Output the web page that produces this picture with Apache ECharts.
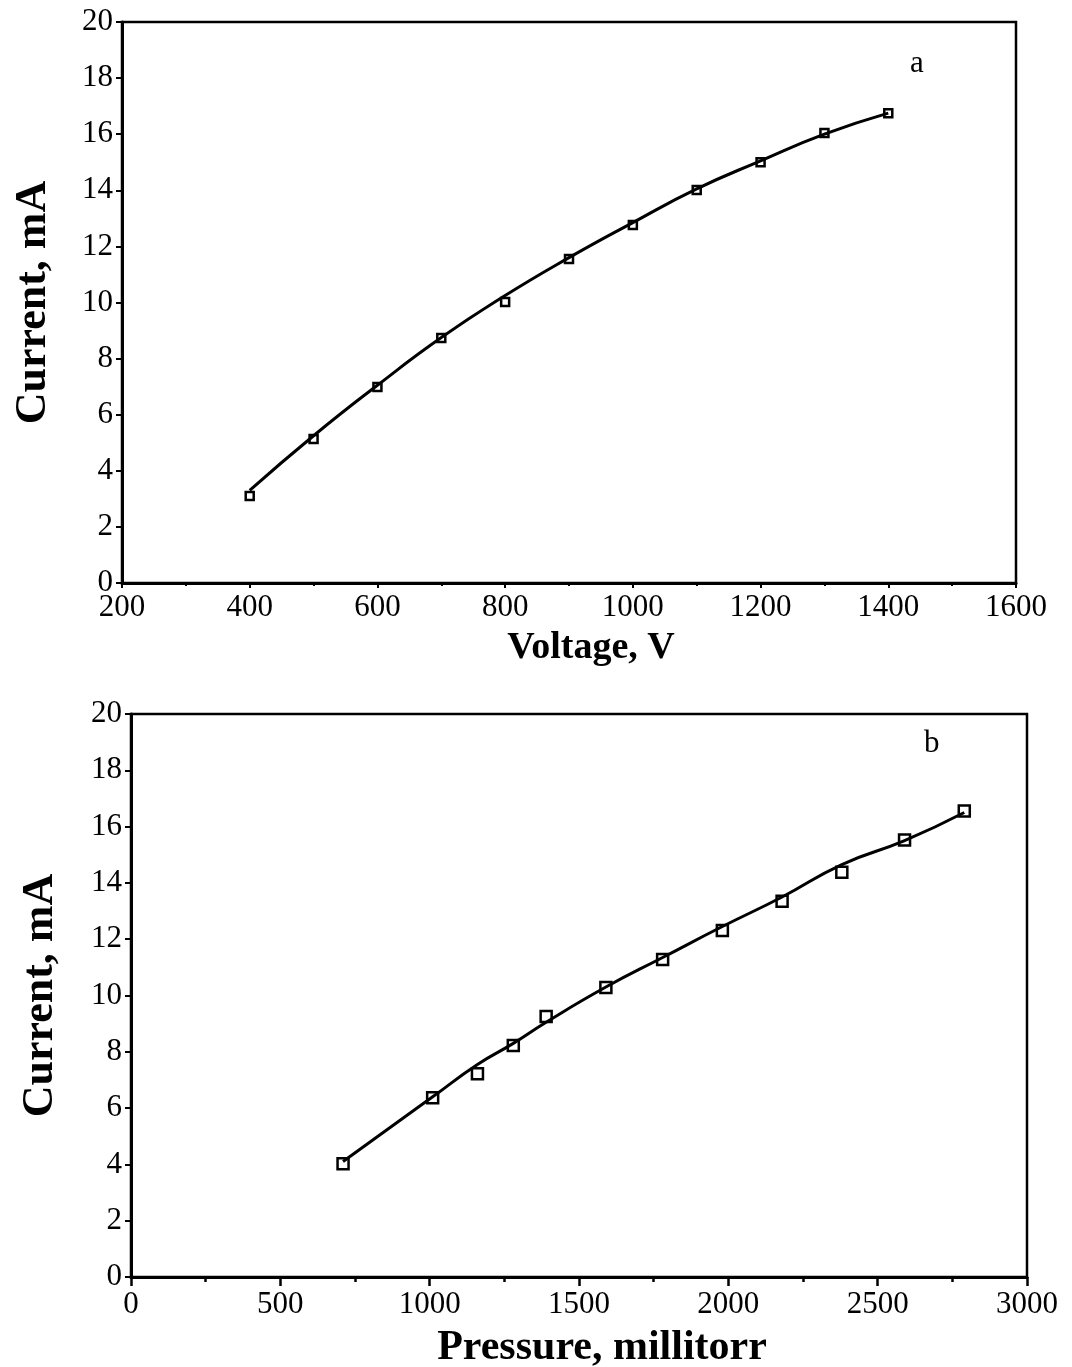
<!DOCTYPE html>
<html>
<head>
<meta charset="utf-8">
<script src="https://cdn.jsdelivr.net/npm/echarts@6/dist/echarts.min.js"></script>
<style>
  html, body { margin: 0; padding: 0; background: #fff; }
  #chart { width: 1072px; height: 1367px; }
</style>
</head>
<body>
<div id="chart"></div>
<script>
// panel a: current vs voltage
const voltage = [400, 500, 600, 700, 800, 900, 1000, 1100, 1200, 1300, 1400]
const currentA = [3.1, 5.13, 6.99, 8.73, 10.02, 11.55, 12.76, 14.01, 15.0, 16.04, 16.75]
const fitA = [3.3, 5.25, 7.05, 8.75, 10.25, 11.6, 12.85, 14.05, 15.05, 16.0, 16.75]

// panel b: current vs pressure
const pressure = [710, 1010, 1160, 1280, 1390, 1590, 1780, 1980, 2180, 2380, 2590, 2790]
const currentB = [4.02, 6.37, 7.22, 8.22, 9.25, 10.28, 11.28, 12.31, 13.35, 14.38, 15.52, 16.55]
const fitB = [4.1, 6.4, 7.55, 8.3, 9.05, 10.3, 11.35, 12.45, 13.5, 14.65, 15.5, 16.5]

const font = 'Liberation Serif'
const chart = echarts.init(document.getElementById('chart'))

const pairs = (xs, ys) => xs.map((x, i) => [x, ys[i]])

// shared axis look
const axisBase = {
  type: 'value',
  splitLine: { show: false },
  axisLine: { show: true, lineStyle: { color: '#000', width: 3 } },
  axisLabel: { color: '#000', fontFamily: font, fontSize: 31, formatter: v => String(v) },
  nameLocation: 'middle'
}
const nameStyle = (size, pad) => ({
  color: '#000', fontFamily: font, fontSize: size, fontWeight: 'bold', padding: pad
})

const option = {
  backgroundColor: '#fff',
  animation: false,
  grid: [
    { left: 122, right: 56, top: 22, height: 561, show: true, borderColor: '#000', borderWidth: 2.5, outerBoundsMode: 'none', containLabel: false },
    { left: 131, right: 45, top: 714, height: 563, show: true, borderColor: '#000', borderWidth: 2.5, outerBoundsMode: 'none', containLabel: false }
  ],
  xAxis: [
    Object.assign({}, axisBase, {
      gridIndex: 0, min: 200, max: 1600, interval: 200,
      name: 'Voltage, V', nameGap: 46,
      nameTextStyle: nameStyle(38, [0, 0, 0, 44]),
      axisTick: { show: true, inside: false, length: 5, lineStyle: { color: '#000', width: 2 } },
      minorTick: { show: true, splitNumber: 2, length: 3, lineStyle: { color: '#000', width: 2 } },
      axisLabel: Object.assign({}, axisBase.axisLabel, { margin: 9 })
    }),
    Object.assign({}, axisBase, {
      gridIndex: 1, min: 0, max: 3000, interval: 500,
      name: 'Pressure, millitorr', nameGap: 50,
      nameTextStyle: nameStyle(42, [0, 0, 0, 46]),
      axisTick: { show: true, inside: false, length: 9, lineStyle: { color: '#000', width: 2.5 } },
      minorTick: { show: true, splitNumber: 2, length: 5, lineStyle: { color: '#000', width: 2.5 } },
      axisLabel: Object.assign({}, axisBase.axisLabel, { margin: 12 })
    })
  ],
  yAxis: [
    Object.assign({}, axisBase, {
      gridIndex: 0, min: 0, max: 20, interval: 2,
      name: 'Current, mA', nameGap: 66,
      nameTextStyle: nameStyle(44, 0),
      axisTick: { show: true, inside: false, length: 6, lineStyle: { color: '#000', width: 2 } },
      axisLabel: Object.assign({}, axisBase.axisLabel, { margin: 9 })
    }),
    Object.assign({}, axisBase, {
      gridIndex: 1, min: 0, max: 20, interval: 2,
      name: 'Current, mA', nameGap: 68,
      nameTextStyle: nameStyle(44, 0),
      axisTick: { show: true, inside: false, length: 6, lineStyle: { color: '#000', width: 2 } },
      axisLabel: Object.assign({}, axisBase.axisLabel, { margin: 9 })
    })
  ],
  graphic: [
    { type: 'text', left: 910, top: 48, style: { text: 'a', font: '31px "Liberation Serif"', fill: '#000' } },
    { type: 'text', left: 924, top: 728, style: { text: 'b', font: '31px "Liberation Serif"', fill: '#000' } }
  ],
  series: [
    {
      type: 'line', xAxisIndex: 0, yAxisIndex: 0,
      data: pairs(voltage, fitA), smooth: true, symbol: 'none',
      lineStyle: { color: '#000', width: 3 }
    },
    {
      type: 'scatter', xAxisIndex: 0, yAxisIndex: 0,
      data: pairs(voltage, currentA), symbol: 'rect', symbolSize: 8,
      itemStyle: { color: '#fff', borderColor: '#000', borderWidth: 2.5, opacity: 1 }
    },
    {
      type: 'line', xAxisIndex: 1, yAxisIndex: 1,
      data: pairs(pressure, fitB), smooth: true, symbol: 'none',
      lineStyle: { color: '#000', width: 3 }
    },
    {
      type: 'scatter', xAxisIndex: 1, yAxisIndex: 1,
      data: pairs(pressure, currentB), symbol: 'rect', symbolSize: 11,
      itemStyle: { color: '#fff', borderColor: '#000', borderWidth: 2.5, opacity: 1 }
    }
  ]
}

chart.setOption(option)
</script>
</body>
</html>
